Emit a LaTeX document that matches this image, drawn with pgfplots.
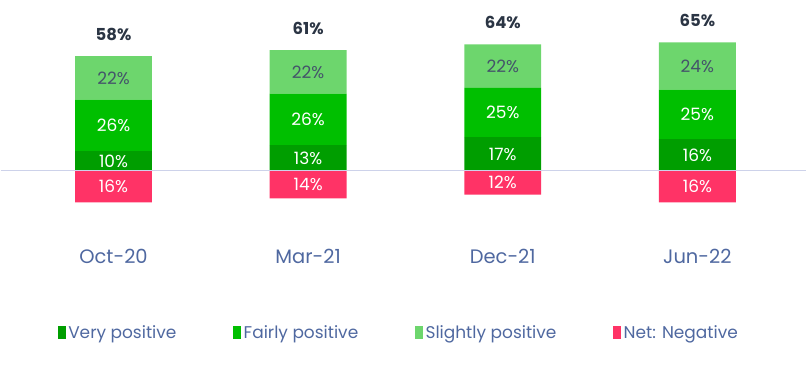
\documentclass[border=0pt]{standalone}
\usepackage{pgfplots}
\pgfplotsset{compat=1.18}
\usepackage{fontspec}
\setmainfont{Poppins}
\definecolor{vp}{HTML}{009E00}
\definecolor{fp}{HTML}{00BF00}
\definecolor{sp}{HTML}{6DD66D}
\definecolor{neg}{HTML}{FF3366}
\definecolor{lab}{HTML}{44546A}
\definecolor{tot}{HTML}{2B3544}
\definecolor{cat}{HTML}{4F68A0}
\definecolor{zl}{HTML}{CDD2EA}
\pgfplotsset{base/.style={scale only axis, width=807pt, height=379pt,
  xmin=-0.58, xmax=3.56, ymin=-105, ymax=86.4,
  axis line style={draw=none}, tick style={draw=none},
  ytick=\empty, xtick=\empty, clip=false}}
\begin{document}
\begin{tikzpicture}
\begin{axis}[base, ybar stacked, bar width=77pt]
\addplot[fill=vp, draw=none] coordinates {(0,10)(1,13)(2,17)(3,16)};
\addplot[fill=fp, draw=none] coordinates {(0,26)(1,26)(2,25)(3,25)};
\addplot[fill=sp, draw=none] coordinates {(0,22)(1,22)(2,22)(3,24)};
\end{axis}
\begin{axis}[base,
  xtick={0,1,2,3}, xticklabels={Oct-20,Mar-21,Dec-21,Jun-22},
  xticklabel style={font=\fontsize{19.5}{19.5}\selectfont, text=cat, anchor=center, yshift=122pt},
  legend style={at={(axis cs:-0.287,-81.8)}, anchor=west, draw=none, fill=none, inner sep=0pt,
    font=\fontsize{17}{17}\selectfont, text=cat,
    nodes={inner sep=1pt},
    /tikz/every odd column/.append style={column sep=2pt},
    /tikz/every even column/.append style={column sep=56pt}},
  legend columns=4]
\addlegendimage{legend image code/.code={\fill[vp] (0pt,-6pt) rectangle (7pt,6pt);}}
\addlegendentry{Very positive}
\addlegendimage{legend image code/.code={\fill[fp] (0pt,-6pt) rectangle (7pt,6pt);}}
\addlegendentry{Fairly positive}
\addlegendimage{legend image code/.code={\fill[sp] (0pt,-6pt) rectangle (7pt,6pt);}}
\addlegendentry{Slightly positive}
\addlegendimage{legend image code/.code={\fill[neg] (0pt,-6pt) rectangle (7pt,6pt);}}
\addlegendentry{Net: Negative}
\addplot[ybar, bar width=77pt, fill=neg, draw=none, forget plot] coordinates {(0,-16)(1,-14)(2,-12)(3,-16)};
\addplot[zl, line width=1.3pt, forget plot] coordinates {(-0.58,0)(3.56,0)};
% white labels
\addplot[draw=none, mark=none, forget plot, nodes near coords={\pgfplotspointmeta\%},
  point meta=explicit symbolic,
  every node near coord/.style={font=\fontsize{17}{17}\selectfont, text=white, anchor=center}]
  table[meta=l] {
x y l
0 5 10
1 6.5 13
2 8.5 17
3 8 16
0 23 26
1 26 26
2 29.5 25
3 28.5 25
0 -8 16
1 -7 14
2 -6 12
3 -8 16
};
% dark labels
\addplot[draw=none, mark=none, forget plot, nodes near coords={\pgfplotspointmeta\%},
  point meta=explicit symbolic,
  every node near coord/.style={font=\fontsize{17}{17}\selectfont, text=lab, anchor=center}]
  table[meta=l] {
x y l
0 47 22
1 50 22
2 53 22
3 53 24
};
% totals
\addplot[draw=none, mark=none, forget plot, nodes near coords={\pgfplotspointmeta\%},
  point meta=explicit symbolic,
  every node near coord/.style={font=\bfseries\fontsize{16.5}{16.5}\selectfont, text=tot, anchor=center}]
  table[meta=l] {
x y l
0 69 58
1 72 61
2 75 64
3 76 65
};
\end{axis}
\end{tikzpicture}
\end{document}
